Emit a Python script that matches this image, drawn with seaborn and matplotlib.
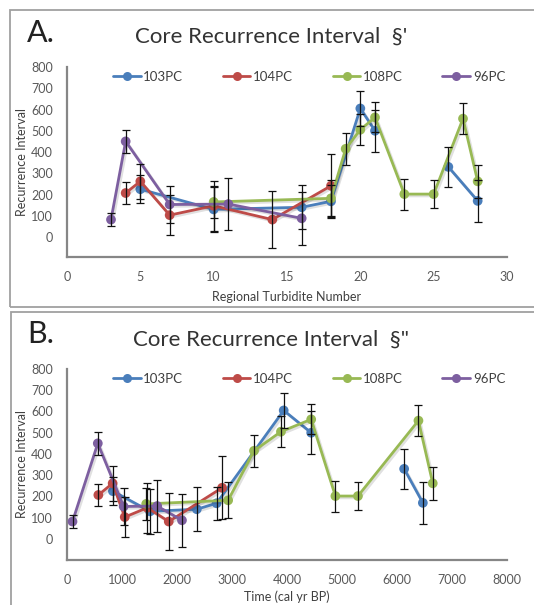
import numpy as np
import pandas as pd
import matplotlib
matplotlib.use("Agg")
import matplotlib.pyplot as plt
import matplotlib.patheffects as pe
from matplotlib.lines import Line2D
from matplotlib.patches import Rectangle
import seaborn as sns

# ---------------- data ----------------
cores = ["103PC", "104PC", "108PC", "96PC"]

# 103PC (blank cell at turbidite 23 -> gap in line)
turb_103 = [5, 10, 16, 18, 20, 21, 23, 26, 28]
time_103 = [835, 1510, 2360, 2720, 3940, 4440, 4880, 6130, 6470]
ri_103 = [225, 130, 140, 168, 605, 500, np.nan, 330, 170]
err_103 = [66, 106, 103, 77, 82, 100, np.nan, 93, 99]

turb_104 = [4, 5, 7, 10, 14, 18]
time_104 = [570, 830, 1050, 1460, 1850, 2820]
ri_104 = [207, 262, 103, 147, 82, 241]
err_104 = [50, 83, 95, 118, 133, 148]

turb_108 = [10, 18, 19, 20, 21, 23, 25, 27, 28]
time_108 = [1440, 2930, 3400, 3890, 4440, 4880, 5290, 6390, 6650]
ri_108 = [165, 182, 415, 505, 563, 202, 202, 557, 262]
err_108 = [75, 85, 75, 74, 70, 73, 67, 72, 78]

turb_96 = [3, 4, 7, 11, 16]
time_96 = [100, 560, 1030, 1640, 2090]
ri_96 = [82, 450, 153, 155, 88]
err_96 = [31, 53, 87, 121, 124]

yticks = [0, 100, 200, 300, 400, 500, 600, 700, 800]
xticks_a = [0, 5, 10, 15, 20, 25, 30]
xticks_b = [0, 1000, 2000, 3000, 4000, 5000, 6000, 7000, 8000]

series = {
    "103PC": (turb_103, time_103, ri_103, err_103),
    "104PC": (turb_104, time_104, ri_104, err_104),
    "108PC": (turb_108, time_108, ri_108, err_108),
    "96PC": (turb_96, time_96, ri_96, err_96),
}
colors = {"103PC": "#4A7EBB", "104PC": "#BE4B48", "108PC": "#98B954", "96PC": "#7D5FA0"}

# ---------------- style ----------------
sns.set_theme(style="white")
FONT = ["Lato", "DejaVu Sans"]
plt.rcParams["font.family"] = FONT

W, H = 534, 605
fig = plt.figure(figsize=(W / 100, H / 100), dpi=100)

def fx(px):
    return px / W

def fy(py):
    return 1 - py / H

# panel borders
for (x0, y0, x1, y1) in [(10, 10, 540, 307), (11, 312, 540, 612)]:
    fig.add_artist(Rectangle((fx(x0), fy(y1)), fx(x1 - x0), (y1 - y0) / H,
                             transform=fig.transFigure, fill=False,
                             edgecolor="#A0A0A0", linewidth=1.3, zorder=0))

shadow = [pe.SimpleLineShadow(offset=(1.3, -1.3), shadow_color="#000000", alpha=0.12), pe.Normal()]

def draw_panel(ax_rect, xkey, xlim, xticks, xlabel, ylim_bottom, letter, title,
               letter_y, title_y, legend_y, xlabelpad):
    ax = fig.add_axes(ax_rect)
    for name in cores:
        turb, tm, ri, er = series[name]
        xs = np.array(turb if xkey == "turb" else tm, dtype=float)
        ys = np.array(ri, dtype=float)
        es = np.array(er, dtype=float)
        df = pd.DataFrame({"x": xs, "y": ys, "e": es})
        # split into contiguous runs (blank cells make gaps)
        valid = df["y"].notna()
        run_id = (~valid).cumsum()
        for _, seg in df[valid].groupby(run_id[valid]):
            sns.lineplot(data=seg, x="x", y="y", ax=ax, color=colors[name],
                         marker="o", markersize=7, markeredgewidth=0,
                         linewidth=2.0, sort=False, estimator=None,
                         path_effects=shadow, legend=False, zorder=3)
        ax.errorbar(df["x"][valid], df["y"][valid], yerr=df["e"][valid], fmt="none",
                    ecolor="#111111", elinewidth=0.9, capsize=3.2,
                    capthick=0.9, zorder=5)
    ax.set_xlim(*xlim)
    ax.set_ylim(ylim_bottom, 800)
    ax.set_xticks(xticks)
    ax.set_yticks(yticks)
    ax.tick_params(axis="both", length=0, labelsize=9, colors="#595959")
    ax.tick_params(axis="y", pad=10)
    ax.tick_params(axis="x", pad=10)
    for side in ["top", "right"]:
        ax.spines[side].set_visible(False)
    for side in ["left", "bottom"]:
        ax.spines[side].set_color("#868686")
        ax.spines[side].set_linewidth(1.6)
    ax.set_xlabel(xlabel, fontsize=9, color="#404040", labelpad=xlabelpad)
    ax.set_ylabel("Recurrence Interval", fontsize=9, color="#404040")
    ax.yaxis.set_label_coords(-0.088, 0.5)
    handles = [Line2D([0], [0], color=colors[n], lw=2.0, marker="o",
                      markersize=6.5, markeredgewidth=0) for n in cores]
    leg = ax.legend(handles, cores, loc="center", bbox_to_anchor=(0.55, legend_y),
                    ncol=4, frameon=False, fontsize=9.5, handlelength=2.1,
                    handletextpad=0.2, columnspacing=3.0, borderaxespad=0)
    for t in leg.get_texts():
        t.set_color("#404040")
    fig.text(fx(27), fy(letter_y), letter, fontsize=22, color="#222222",
             ha="left", va="center")
    fig.text(fx(271), fy(title_y), title, fontsize=16, color="#333333",
             ha="center", va="center")
    return ax

axA = draw_panel([fx(67), fy(257), fx(440), 190 / H], "turb", (0, 30), xticks_a,
                 "Regional Turbidite Number", -94,
                 "A.", "Core Recurrence Interval  \u00a7'", 33, 37, 0.947, 6)
axB = draw_panel([fx(67), fy(560), fx(440), 191 / H], "time", (0, 8000), xticks_b,
                 "Time (cal yr BP)", -99,
                 "B.", "Core Recurrence Interval  \u00a7\"", 334, 340, 0.948, 3)

fig.savefig("out.png", dpi=100)
